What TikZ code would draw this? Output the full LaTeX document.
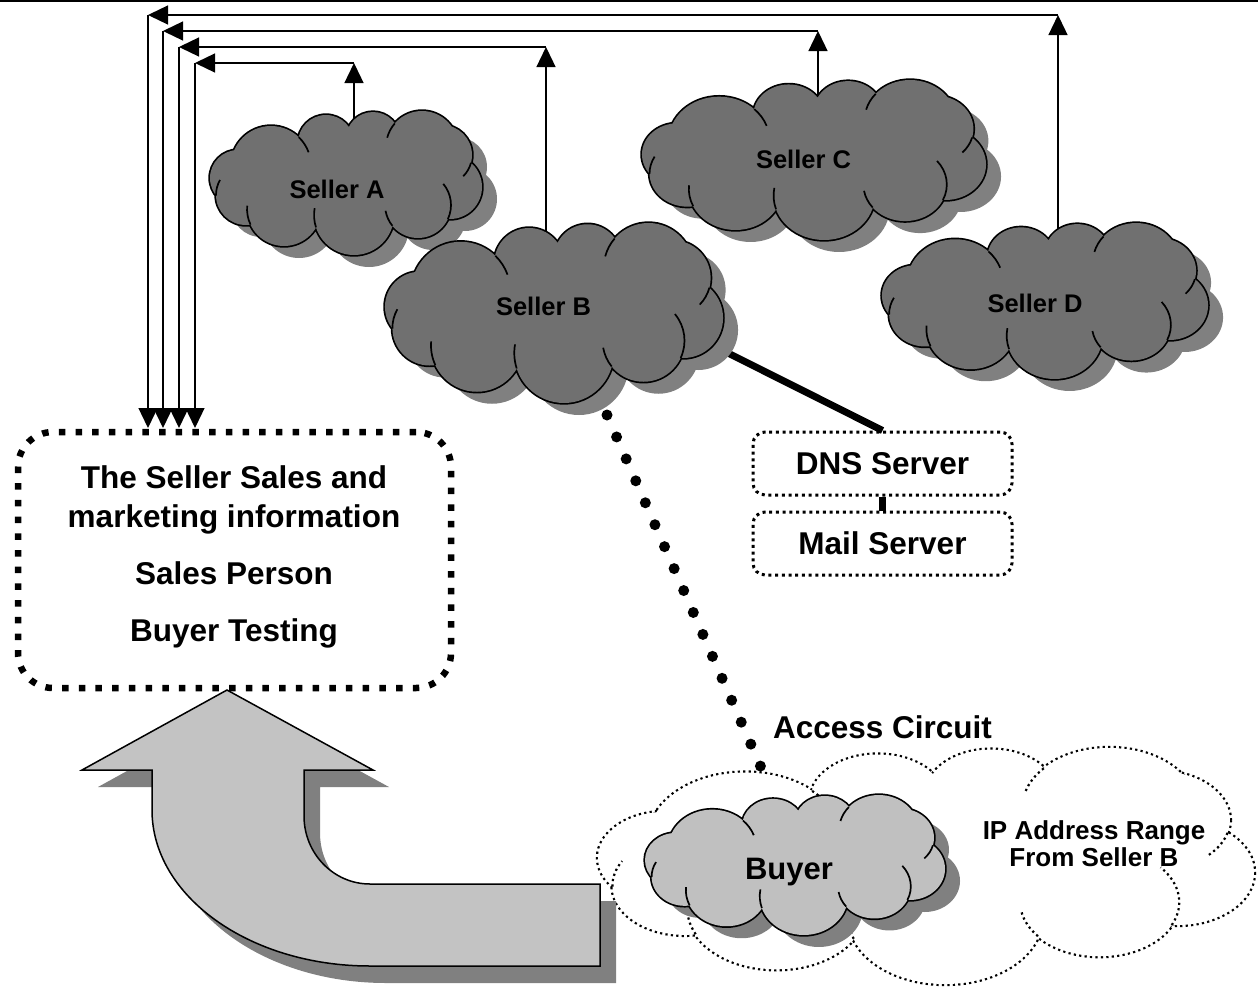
\documentclass[tikz,border=0pt]{standalone}
\usepackage{fontspec}
\setmainfont{Liberation Sans}
\usetikzlibrary{arrows.meta}
\definecolor{cloudfill}{RGB}{112,112,112}
\definecolor{cloudshade}{RGB}{128,128,128}
\definecolor{buyerfill}{RGB}{192,192,192}
\definecolor{arrowfill}{RGB}{195,195,195}

\def\puffcircles{(-75,-17) circle[radius=40] (-20,-40) circle[radius=28] (27,-44) circle[radius=27] (76,-36) circle[radius=36] (96,-28) circle[radius=30] (104,4) circle[radius=32] (72,22) circle[radius=33] (8,32) circle[radius=40] (-62,26) circle[radius=37] (-100,12) circle[radius=30] (-108,-5) circle[radius=28]}
\def\puffcore{(0,0) ellipse[x radius=95, y radius=40]}
\def\puffcurls{(-47.2,-45.8) arc[start angle=-46, end angle=-20, radius=40]
 (48.8,-59.6) arc[start angle=221,end angle=195,radius=36]
 (125,-20.2) arc[start angle=15,end angle=45,radius=30]
 (101.9,36) arc[start angle=25,end angle=-40,radius=33]
 (46.4,42.8) arc[start angle=141,end angle=170,radius=33]
 (-30,44.4) arc[start angle=162,end angle=190,radius=40]
 (-95.5,41.6) arc[start angle=155,end angle=185,radius=37]
 (-130,12.5) arc[start angle=179,end angle=210,radius=30]}

\newcommand{\solidcloud}[5]{%
  \begin{scope}[shift={(#1+15,#2+12)},xscale=#3,yscale=#4]
    \fill[cloudshade] \puffcircles \puffcore;
  \end{scope}
  \begin{scope}[shift={(#1,#2)},xscale=#3,yscale=#4]
    \draw[line width=3.4pt] \puffcircles;
    \fill[#5] \puffcircles \puffcore;
    \draw[line width=1.7pt] \puffcurls;
  \end{scope}}

\newcommand{\dottedcloud}[4]{%
  \begin{scope}[shift={(#1,#2)},xscale=#3,yscale=#4]
    \draw[line width=4.4pt, dash pattern=on 2.2pt off 3.2pt] \puffcircles;
    \fill[white] \puffcircles \puffcore;
    \draw[line width=2.2pt, dash pattern=on 2.2pt off 3.2pt] \puffcurls;
  \end{scope}}

\def\bigarrowpath{(227,690) -- (373,770) -- (304,770) -- (304,816) arc[start angle=180,end angle=90,x radius=66,y radius=68] -- (600,884) -- (600,966) -- (370,966) arc[start angle=90,end angle=180,x radius=218,y radius=156] -- (152,770) -- (82,770) -- cycle}

\tikzset{
  feed/.style={line width=1.3pt, -{Triangle[length=20pt,width=19pt]}},
  cloudlabel/.style={font=\fontsize{25.5}{30}\selectfont\bfseries, anchor=base, inner sep=0pt},
  bigtext/.style={font=\fontsize{31.5}{38}\selectfont\bfseries, anchor=base, inner sep=0pt},
  iptext/.style={font=\fontsize{26}{30}\selectfont\bfseries, anchor=base, inner sep=0pt},
  infobox/.style={draw, line width=6.5pt, dash pattern=on 6.5pt off 10.2pt, rounded corners=35pt,
    minimum width=433pt, minimum height=256pt, inner sep=0pt},
  serverbox/.style={draw, line width=3pt, dash pattern=on 3pt off 3.7pt, rounded corners=12pt,
    minimum width=259pt, minimum height=63pt, inner sep=0pt,
    font=\fontsize{31.5}{38}\selectfont\bfseries},
  accessdots/.style={line width=11pt, line cap=round, dash pattern=on 0pt off 23.945pt},
  heavy/.style={line width=7pt}
}

\begin{document}
\begin{tikzpicture}[x=1pt,y=-1pt]
\useasboundingbox (0,0) rectangle (1258,996);

% top border
\coordinate (topL) at (0,1);
\coordinate (topR) at (1258,1);
\draw[line width=2pt] (topL) -- (topR);

% feed lines from sellers to the info box
\coordinate (aS) at (354,135);  \coordinate (aU) at (354,63);  \coordinate (aC) at (195,63);  \coordinate (aE) at (195,428);
\coordinate (bS) at (546,245);  \coordinate (bU) at (546,47);  \coordinate (bC) at (179,47);  \coordinate (bE) at (179,428);
\coordinate (cS) at (818,110);  \coordinate (cU) at (818,31);  \coordinate (cC) at (163,31);  \coordinate (cE) at (163,428);
\coordinate (dS) at (1058,255); \coordinate (dU) at (1058,15); \coordinate (dC) at (148,15);  \coordinate (dE) at (148,428);
\foreach \p in {a,b,c,d}{
  \draw[feed] (\p S) -- (\p U);
  \draw[feed] (\p U) -- (\p C);
  \draw[feed] (\p C) -- (\p E);
}

% server boxes
\node[serverbox] (dns) at (882.5,463.5) {DNS Server};
\node[serverbox] (mail) at (882.5,543.5) {Mail Server};
\draw[heavy] (dns.south) -- (mail.north);

% thick link Seller B -> DNS
\coordinate (bLink) at (700,339);
\draw[heavy] (bLink) -- (dns.north);

% seller clouds
\coordinate (sellerA) at (346,183);
\coordinate (sellerC) at (814,160);
\coordinate (sellerD) at (1045,301);
\coordinate (sellerB) at (554,313);
\solidcloud{346}{183}{1}{1}{cloudfill}
\solidcloud{814}{160}{1.265}{1.111}{cloudfill}
\solidcloud{1045}{301}{1.199}{1.083}{cloudfill}
\solidcloud{554}{313}{1.243}{1.25}{cloudfill}
\node[cloudlabel] (labA) at (337,198) {Seller A};
\node[cloudlabel] (labB) at (543.5,315) {Seller B};
\node[cloudlabel] (labC) at (803.5,168) {Seller C};
\node[cloudlabel] (labD) at (1035,312) {Seller D};

% info box
\node[infobox] (info) at (234.5,560) {};
\node[bigtext] (t1) at (234,488) {The Seller Sales and};
\node[bigtext] (t2) at (234,527) {marketing information};
\node[bigtext] (t3) at (234,584) {Sales Person};
\node[bigtext] (t4) at (234,641) {Buyer Testing};

% IP range cloud and buyer cloud
\coordinate (iprange) at (926,866);
\dottedcloud{926}{866}{2.412}{1.639}
\coordinate (buyer) at (795,865);
\solidcloud{795}{865}{1.103}{0.972}{buyerfill}
\node[font=\fontsize{31}{36}\selectfont\bfseries, anchor=base, inner sep=0pt] (labBuyer) at (789,879) {Buyer};
\node[iptext] (ip1) at (1094,839) {IP Address Range};
\node[iptext] (ip2) at (1094,866) {From Seller B};

% big return arrow
\fill[cloudshade, shift={(16,17)}] \bigarrowpath;
\draw[line width=1.5pt, fill=arrowfill] \bigarrowpath;

% access circuit
\coordinate (acc1) at (607,415);
\coordinate (acc2) at (770,788);
\draw[accessdots] (acc1) -- (acc2);
\node[bigtext] (access) at (882.5,738) {Access Circuit};
\end{tikzpicture}
\end{document}
